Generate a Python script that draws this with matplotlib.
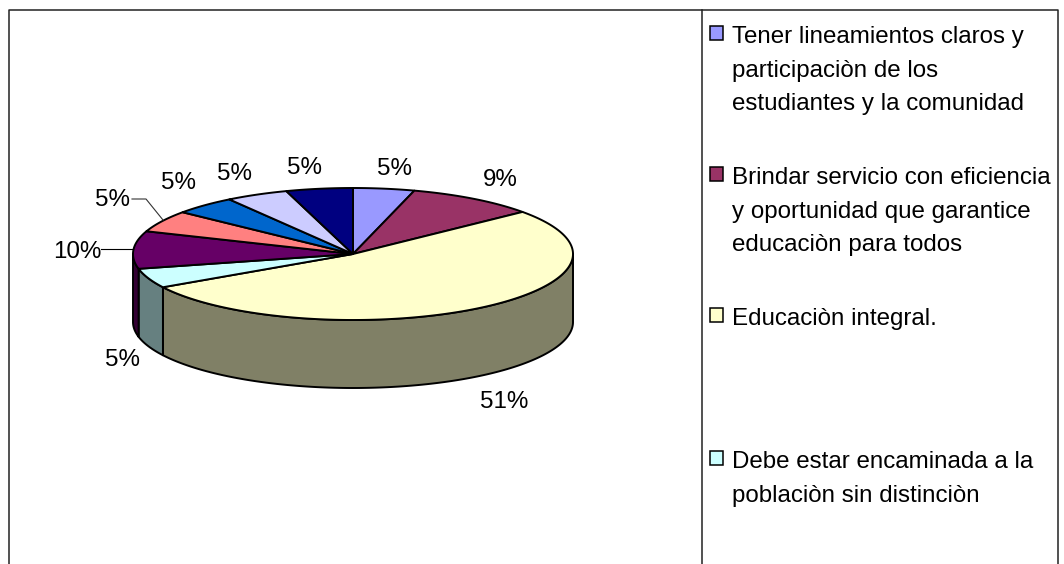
import numpy as np
import matplotlib
matplotlib.use("Agg")
import matplotlib.pyplot as plt
from matplotlib.patches import Polygon, Rectangle

plt.rcParams["font.family"] = ["Liberation Sans", "DejaVu Sans"]

# shares, the drawn angles differ a bit from the printed labels
shares = [4.5, 9.5, 52.6, 4.8, 9.2, 5.3, 4.6, 4.6, 4.9]
share_labels = ["5%", "9%", "51%", "5%", "10%", "5%", "5%", "5%", "5%"]
colors = ["#9999FF", "#993366", "#FFFFCC", "#CCFFFF", "#660066", "#FF8080", "#0066CC", "#CCCCFF", "#000080"]
side_colors = ["#4D4D80", "#4D1A33", "#808066", "#668080", "#330033", "#804040", "#003366", "#666680", "#000040"]
legend_names = [
    "Tener lineamientos claros y\nparticipaciòn de los\nestudiantes y la comunidad",
    "Brindar servicio con eficiencia\ny oportunidad que garantice\neducaciòn para todos",
    "Educaciòn integral.",
    "Debe estar encaminada a la\npoblaciòn sin distinciòn",
]

# pie geometry in pixels
cx, cy = 353, 254
rx, ry = 220, 66
depth = 68

label_pos = [(395, 169), (500, 180), (504, 402), (122, 360), (77, 252), (113, 200), (178, 183), (234, 174), (305, 168)]
legend_y = [35, 176, 317, 460]


def ellipse_pts(a0, a1, dy=0):
    # angles in degrees clockwise from the top
    t = np.radians(np.linspace(a0, a1, max(int(abs(a1 - a0)) * 2, 2)))
    return np.column_stack([cx + rx * np.sin(t), cy - ry * np.cos(t) + dy])


fig = plt.figure(figsize=(10.64, 5.64), dpi=100)
ax = fig.add_axes([0, 0, 1, 1])
ax.set_xlim(0, 1064)
ax.set_ylim(564, 0)
ax.axis("off")

# chart frame, cut off at the bottom of the image
ax.plot([9, 9, 1058, 1058], [564, 9.5, 9.5, 564], color="#222222", lw=1.1)
ax.plot([701.5, 701.5], [9.5, 564], color="#222222", lw=1.1)

edges = np.cumsum([0] + shares) / sum(shares) * 360

# side walls first
for i in range(len(shares)):
    a0 = max(edges[i], 90)
    a1 = min(edges[i + 1], 270)
    if a1 <= a0:
        continue
    top = ellipse_pts(a0, a1)
    bottom = ellipse_pts(a1, a0, depth)
    ax.add_patch(Polygon(np.vstack([top, bottom]), closed=True, facecolor=side_colors[i],
                         edgecolor="black", lw=1.4, joinstyle="round"))

# top slices
for i in range(len(shares)):
    arc = ellipse_pts(edges[i], edges[i + 1])
    ax.add_patch(Polygon(np.vstack([[cx, cy], arc]), closed=True, facecolor=colors[i],
                         edgecolor="black", lw=1.4, joinstyle="round"))

# labels
for lab, (x, y) in zip(share_labels, label_pos):
    ax.text(x, y, lab, fontsize=17.4, ha="center", va="center", color="black")

# leader lines
ax.plot([101, 133], [249, 249], color="black", lw=0.8)
ax.plot([132, 146, 163], [199, 199, 220], color="#333333", lw=0.8)

# legend
for name, col, y in zip(legend_names, colors, legend_y):
    ax.add_patch(Rectangle((709.5, y - 9), 13, 14, facecolor=col, edgecolor="black", lw=1.1))
    ax.text(732.5, y - 9, name, fontsize=17.4, ha="left", va="top", linespacing=1.68, color="black")

fig.savefig("out.png", dpi=100)
